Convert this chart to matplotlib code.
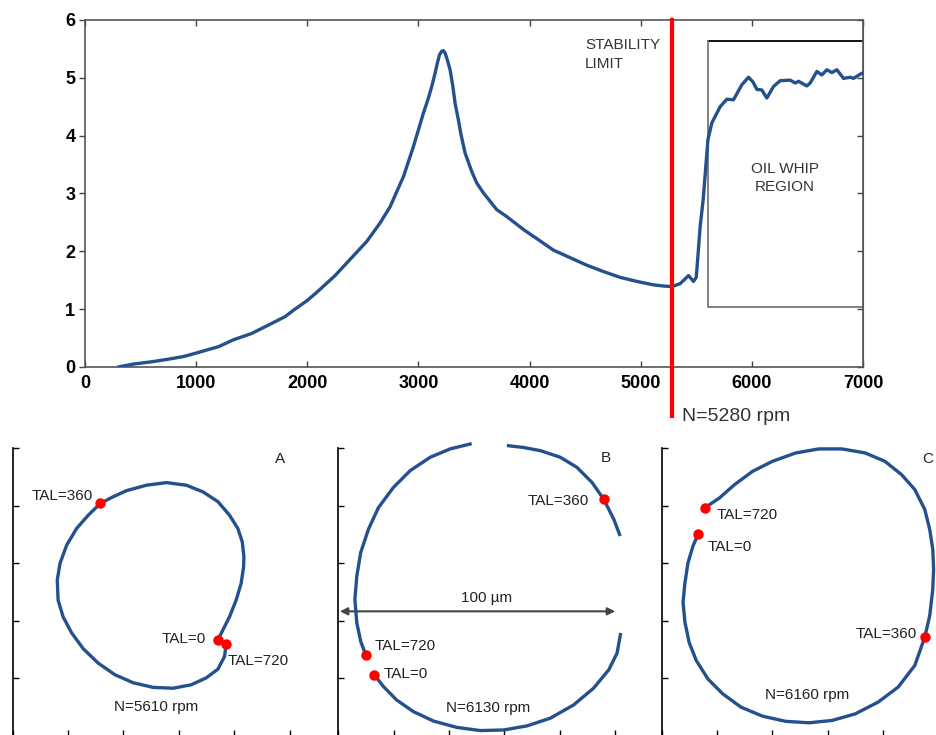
import matplotlib.pyplot as plt

plt.rcParams['font.family'] = ['Liberation Sans', 'DejaVu Sans']

# Top panel: response amplitude vs shaft speed
speed = [300, 435, 600, 735, 885, 1000, 1125, 1200, 1335, 1500, 1635, 1800, 1875,
         2000, 2085, 2250, 2385, 2535, 2655, 2745, 2805, 2865, 2910, 2955, 3000,
         3045, 3090, 3120, 3150, 3170, 3190, 3210, 3225, 3240, 3260, 3285, 3310,
         3330, 3360, 3381, 3420, 3480, 3525, 3585, 3705, 3795, 3950, 4065, 4215,
         4365, 4515, 4665, 4815, 4965, 5115, 5205, 5280, 5355, 5430, 5475, 5500,
         5517, 5535, 5562, 5605, 5640, 5715, 5775, 5835, 5910, 5970, 6010, 6045,
         6090, 6135, 6195, 6255, 6345, 6390, 6420, 6495, 6525, 6585, 6630, 6675,
         6720, 6765, 6825, 6885, 6915, 6990]
amplitude = [0.0, 0.05, 0.09, 0.13, 0.18, 0.24, 0.31, 0.35, 0.47, 0.58, 0.71, 0.87, 0.98,
             1.15, 1.29, 1.58, 1.86, 2.17, 2.49, 2.77, 3.03, 3.29, 3.55, 3.81, 4.10,
             4.39, 4.65, 4.85, 5.08, 5.25, 5.40, 5.46, 5.47, 5.43, 5.31, 5.14, 4.85,
             4.56, 4.27, 4.04, 3.70, 3.38, 3.18, 3.01, 2.72, 2.60, 2.37, 2.22, 2.02,
             1.89, 1.76, 1.65, 1.55, 1.48, 1.42, 1.40, 1.39, 1.44, 1.58, 1.48, 1.55,
             1.97, 2.43, 2.89, 3.93, 4.22, 4.50, 4.63, 4.62, 4.88, 5.01, 4.93, 4.80,
             4.79, 4.65, 4.85, 4.95, 4.96, 4.91, 4.94, 4.86, 4.91, 5.11, 5.05, 5.14,
             5.09, 5.14, 4.99, 5.01, 4.99, 5.08]
x_ticks = [0, 1000, 2000, 3000, 4000, 5000, 6000, 7000]
y_ticks = [0, 1, 2, 3, 4, 5, 6]
stability_speed = 5280
whip_x = [5605, 7000]
whip_y = [1.04, 5.645]

# Bottom panels: shaft orbits in micrometres (None = gap in the trace)
orbit_a_x = [74.1, 75.9, 78.3, 80.7, 82.5, 83.4, 83.5, 82.9, 81.3, 78.3, 74.1, 68.7,
             62.7, 55.5, 48.3, 41.1, 36.3, 31.7, 27.3, 23.1, 19.5, 17.1, 16.1, 16.4,
             18.2, 21.3, 25.5, 30.9, 36.9, 43.5, 50.7, 57.9, 64.5, 69.9, 74.1, 76.5, 77.1]
orbit_a_y = [33.3, 36.8, 41.4, 47.2, 53.0, 58.8, 62.3, 67.5, 72.1, 76.7, 81.4, 84.8,
             87.1, 88.0, 87.1, 85.2, 83.1, 80.8, 76.7, 72.1, 66.3, 60.0, 54.2, 47.2,
             41.4, 35.8, 30.3, 25.3, 21.3, 18.5, 16.9, 16.6, 17.8, 20.2, 23.2, 27.6, 31.9]
orbit_b_x = [13.0, 16.3, 21.1, 27.1, 34.4, 42.8, 51.3, 59.7, 68.1, 76.6, 85.0, 92.2,
             97.7, 100.7, 101.9,
             None,
             101.6, 99.5, 95.9, 91.7, 86.2, 80.2, 73.0, 66.9, 61.5,
             None,
             47.6, 40.4, 33.2, 25.9, 19.9, 14.5, 10.9, 8.1, 6.7, 6.0, 6.7, 8.1, 9.9]
orbit_b_y = [21.3, 17.2, 12.5, 8.5, 5.2, 3.0, 1.9, 2.1, 3.5, 6.2, 10.8, 16.6,
             23.0, 28.8, 35.2,
             None,
             70.0, 75.3, 82.2, 88.0, 93.3, 96.8, 99.1, 100.2, 100.8,
             None,
             101.4, 99.7, 96.8, 92.1, 86.3, 79.3, 71.8, 63.7, 55.5, 47.4, 39.3, 32.9, 28.2]
orbit_c_x = [13.1, 11.3, 9.5, 8.4, 7.7, 8.4, 9.9, 12.5, 16.7, 22.1, 28.7, 36.4,
             44.8, 53.2, 61.5, 69.9, 78.2, 85.4, 91.4, 95.0, 96.8, 97.9, 98.2, 97.9,
             96.8, 95.0, 91.4, 86.6, 80.6, 73.5, 65.1, 56.7, 48.4, 40.0, 32.8, 26.3,
             20.9, 15.5]
orbit_c_y = [70.0, 66.0, 60.2, 53.3, 46.4, 39.5, 32.5, 26.2, 19.8, 14.6, 10.0, 6.9,
             5.1, 4.6, 5.4, 7.7, 11.8, 17.0, 24.5, 34.3, 41.8, 51.0, 57.9, 64.8,
             71.7, 78.7, 85.6, 90.8, 95.4, 98.3, 99.7, 99.7, 98.3, 95.4, 91.9, 87.3,
             82.7, 79.2]

# TAL markers (x, y) per orbit, in order TAL=0, TAL=360, TAL=720
tal_labels = ['TAL=0', 'TAL=360', 'TAL=720']
tal_a = [(74.1, 33.3), (31.7, 80.8), (77.1, 31.9)]
tal_b = [(13.0, 21.3), (95.9, 82.2), (9.9, 28.2)]
tal_c = [(13.1, 70.0), (95.0, 34.3), (15.5, 79.2)]

blue = '#24508c'
red = '#ff0000'

fig = plt.figure(figsize=(9.37, 7.35), dpi=100)

# ---------- top panel ----------
ax = fig.add_axes([0.0907, 0.5007, 0.8303, 0.4721])
ax.plot(speed, amplitude, color=blue, lw=2.4, solid_joinstyle='round',
        solid_capstyle='round', zorder=3)
ax.set_xlim(0, 7000)
ax.set_ylim(0, 6)
ax.set_xticks(x_ticks)
ax.set_yticks(y_ticks)
for lab in ax.get_xticklabels() + ax.get_yticklabels():
    lab.set_fontweight('bold')
    lab.set_fontsize(13)
ax.tick_params(axis='x', direction='in', top=True, length=4, width=1, pad=6, color='#444')
ax.tick_params(axis='y', direction='out', length=4, width=1, pad=3, color='#444')
for s in ax.spines.values():
    s.set_color('#555')
    s.set_linewidth(1.2)
# right-hand ticks point inward
ax_r = ax.secondary_yaxis('right')
ax_r.set_yticks(y_ticks)
ax_r.tick_params(direction='in', length=4, width=1, labelright=False, color='#444')
ax_r.spines['right'].set_color('#555')

# stability limit line
ax.axvline(stability_speed, ymin=-0.14, ymax=1, color=red, lw=3, clip_on=False, zorder=4)
ax.text(stability_speed + 90, -0.142, 'N=5280 rpm', transform=ax.get_xaxis_transform(),
        fontsize=14, color='#333', va='center', ha='left')
ax.text(4500, 5.40, 'STABILITY\nLIMIT', fontsize=11, color='#333',
        va='center', ha='left', linespacing=1.45)

# oil whip box
ax.plot([whip_x[0], whip_x[1]], [whip_y[1], whip_y[1]], color='black', lw=1.3, zorder=2)
ax.plot([whip_x[0], whip_x[0], whip_x[1]], [whip_y[1], whip_y[0], whip_y[0]],
        color='#777', lw=1.3, zorder=2)
ax.text(6300, 3.27, 'OIL WHIP\nREGION', fontsize=11, color='#333',
        ha='center', va='center', linespacing=1.35)


# ---------- bottom orbit panels ----------
def orbit_panel(left, xs, ys, tals, tal_pos, tal_ha, speed_txt, speed_pos,
                letter, letter_pos, letter_ha):
    a = fig.add_axes([left, -0.0014, 0.2955, 0.3918])
    a.set_xlim(0, 100)
    a.set_ylim(0, 100)
    a.set_xticks([0, 20, 40, 60, 80, 100])
    a.set_yticks([0, 20, 40, 60, 80, 100])
    a.tick_params(direction='in', length=4.5, width=1, labelbottom=False, labelleft=False)
    for k in ['top', 'right', 'bottom']:
        a.spines[k].set_visible(False)
    a.spines['left'].set_linewidth(1.2)
    a.plot([v if v is not None else float('nan') for v in xs],
           [v if v is not None else float('nan') for v in ys],
           color=blue, lw=2.4, solid_joinstyle='round', clip_on=False, zorder=3)
    for (px, py), lab, (tx, ty), ha in zip(tals, tal_labels, tal_pos, tal_ha):
        a.plot(px, py, 'o', color=red, ms=6.5, clip_on=False, zorder=4)
        a.text(tx, ty, lab, fontsize=11, color='#222', ha=ha, va='center')
    a.text(speed_pos[0], speed_pos[1], speed_txt, fontsize=11, color='#222',
           ha='center', va='center')
    a.text(letter_pos[0], letter_pos[1], letter, fontsize=11, color='#222',
           ha=letter_ha, va='center')
    return a


orbit_panel(0.01355, orbit_a_x, orbit_a_y, tal_a,
            [(69.9, 33.7), (29.0, 83.3), (77.7, 26.0)], ['right', 'right', 'left'],
            'N=5610 rpm', (51.7, 10.1), 'A', (96.7, 96.2), 'center')

ax_b = orbit_panel(0.3610, orbit_b_x, orbit_b_y, tal_b,
                   [(16.5, 21.6), (90.4, 81.5), (13.3, 31.4)], ['left', 'right', 'left'],
                   'N=6130 rpm', (54.2, 9.8), 'B', (96.8, 96.5), 'center')
ax_b.annotate('', xy=(100, 43.3), xytext=(0.6, 43.3),
              arrowprops=dict(arrowstyle='<|-|>', color='#444', lw=1.5,
                              mutation_scale=11, shrinkA=0, shrinkB=0), zorder=2)
ax_b.text(53.7, 48.0, '100 µm', fontsize=11, color='#222', ha='center', va='center')

orbit_panel(0.7062, orbit_c_x, orbit_c_y, tal_c,
            [(16.7, 65.6), (92.3, 35.6), (19.7, 76.9)], ['left', 'right', 'left'],
            'N=6160 rpm', (52.5, 14.2), 'C', (94.0, 96.2), 'left')

fig.savefig('out.png', dpi=100)
